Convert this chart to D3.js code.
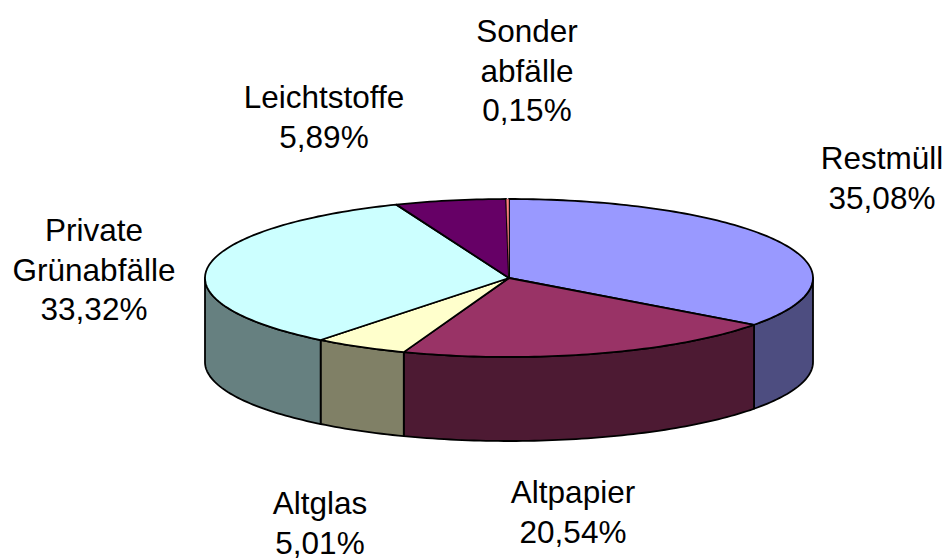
<!DOCTYPE html>
<html>
<head>
<meta charset="utf-8">
<script src="https://cdnjs.cloudflare.com/ajax/libs/d3/7.8.5/d3.min.js"></script>
<style>
html, body { margin: 0; padding: 0; background: #fff; }
svg { display: block; }
text { font-family: "Liberation Sans", Arial, sans-serif; font-size: 31.5px; fill: #000; text-anchor: middle; }
</style>
</head>
<body>
<div id="chart"></div>
<script>
var categories = ["Restmüll", "Altpapier", "Altglas", "Private Grünabfälle", "Leichtstoffe", "Sonderabfälle"];
var values = [35.08, 20.54, 5.01, 33.32, 5.89, 0.15];
var topColors = ["#9999ff", "#993366", "#ffffcc", "#ccffff", "#660066", "#ff8080"];
var sideColors = ["#4d4d80", "#4d1a33", "#808066", "#668080", "#330033", "#804040"];
var labelLines = [
	["Restmüll", "35,08%"],
	["Altpapier", "20,54%"],
	["Altglas", "5,01%"],
	["Private", "Grünabfälle", "33,32%"],
	["Leichtstoffe", "5,89%"],
	["Sonder", "abfälle", "0,15%"]
];
// label centre x / first baseline y
var labelPos = [[882, 169], [573, 503], [320, 514], [94, 241], [324, 108], [527, 42]];

var svgWidth = 947, svgHeight = 559;
var cx = 509, cy = 278, rx = 304, ry = 79, depth = 84;

var svg = d3.select("#chart").append("svg")
	.attr("width", svgWidth)
	.attr("height", svgHeight);

// unit circle -> ellipse on screen
var xScale = d3.scaleLinear().domain([-1, 1]).range([cx - rx, cx + rx]);
var yScale = d3.scaleLinear().domain([-1, 1]).range([cy + ry, cy - ry]);

var pie = d3.pie().sort(null).value(function(d) { return d; });
var slices = pie(values);

var line = d3.line()
	.x(function(d) { return d[0]; })
	.y(function(d) { return d[1]; });

function rimPoint(a, dy) {
	return [xScale(Math.sin(a)), yScale(Math.cos(a)) + (dy || 0)];
}

function rim(a0, a1, dy) {
	var n = Math.max(2, Math.ceil((a1 - a0) / 0.02));
	return d3.range(n + 1).map(function(i) {
		return rimPoint(a0 + (a1 - a0) * i / n, dy);
	});
}

// the front half of the rim is what shows the wall
var wallStart = Math.PI / 2, wallEnd = Math.PI * 3 / 2;

var walls = svg.append("g").attr("class", "walls");
slices.forEach(function(s, i) {
	var a0 = Math.max(s.startAngle, wallStart);
	var a1 = Math.min(s.endAngle, wallEnd);
	if (a1 <= a0) return;
	var pts = rim(a0, a1, 0).concat(rim(a0, a1, depth).reverse());
	walls.append("path")
		.attr("d", line(pts) + "Z")
		.attr("fill", sideColors[i])
		.attr("stroke", "#000")
		.attr("stroke-width", 1.8)
		.attr("stroke-linejoin", "round");
});

var tops = svg.append("g").attr("class", "tops");
slices.forEach(function(s, i) {
	var pts = [[xScale(0), yScale(0)]].concat(rim(s.startAngle, s.endAngle, 0));
	tops.append("path")
		.attr("d", line(pts) + "Z")
		.attr("fill", topColors[i])
		.attr("stroke", "#000")
		// the sliver would vanish under a full width outline
		.attr("stroke-width", values[i] < 1 ? 0.4 : 1.8)
		.attr("stroke-linejoin", "round");
});

var labels = svg.append("g").attr("class", "labels");
labelLines.forEach(function(lines, i) {
	var t = labels.append("text")
		.attr("x", labelPos[i][0])
		.attr("y", labelPos[i][1]);
	lines.forEach(function(l, j) {
		t.append("tspan")
			.attr("x", labelPos[i][0])
			.attr("dy", j == 0 ? 0 : 39.5)
			.text(l);
	});
});
</script>
</body>
</html>
